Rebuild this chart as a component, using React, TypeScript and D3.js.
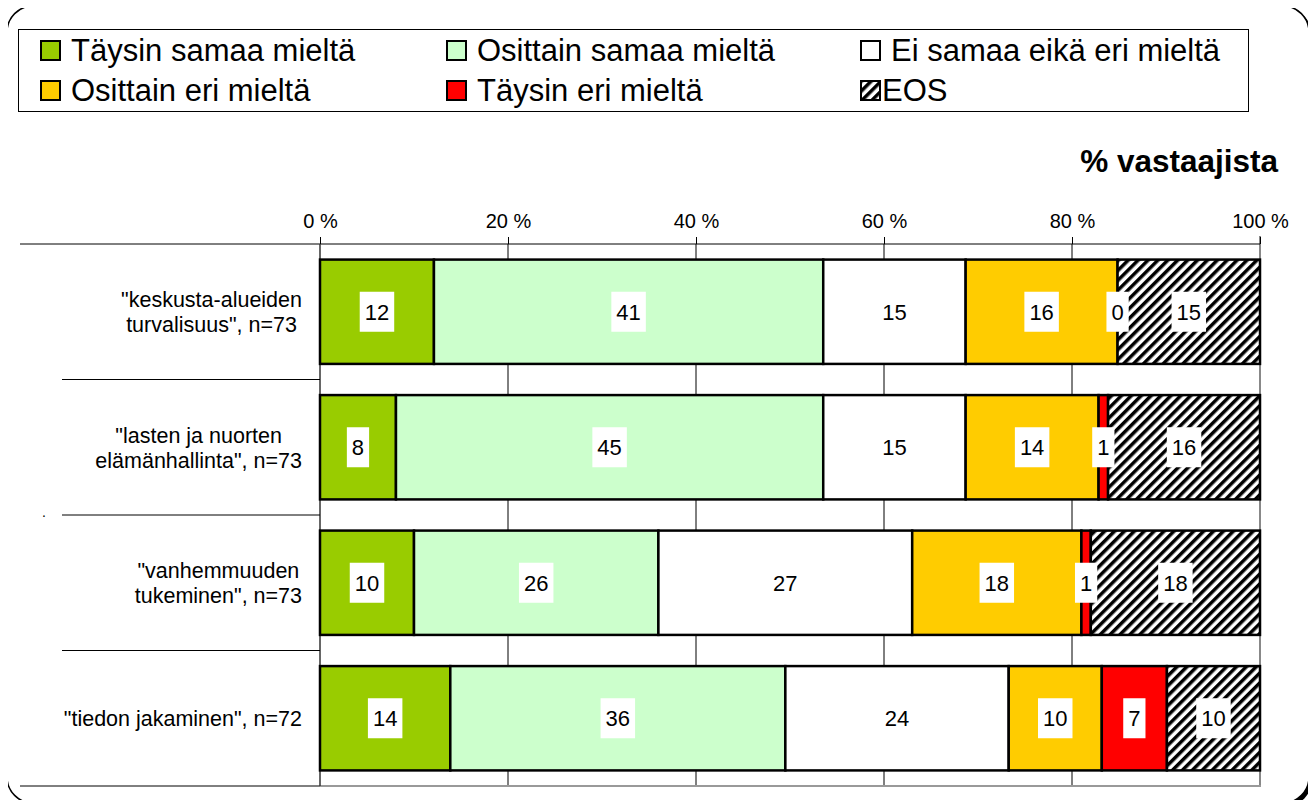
import React, { useEffect, useRef } from 'react';
import * as d3 from 'd3';

// categories (label lines as Excel wrapped them)
const categoryLines = [
  ['"keskusta-alueiden', 'turvalisuus", n=73'],
  ['"lasten ja nuorten', 'elämänhallinta", n=73'],
  ['"vanhemmuuden', 'tukeminen", n=73'],
  ['"tiedon jakaminen", n=72'],
];

const seriesNames = [
  'Täysin samaa mieltä',
  'Osittain samaa mieltä',
  'Ei samaa eikä eri mieltä',
  'Osittain eri mieltä',
  'Täysin eri mieltä',
  'EOS',
];

// percent of respondents, per category
const taysinSamaa = [12, 8, 10, 14];
const osittainSamaa = [41, 45, 26, 36];
const eiSamaaEiEri = [15, 15, 27, 24];
const osittainEri = [16, 14, 18, 10];
const taysinEri = [0, 1, 1, 7];
const eos = [15, 16, 18, 10];

const tickValues = [0, 0.2, 0.4, 0.6, 0.8, 1];

const colors = ['#99cc00', '#ccffcc', '#ffffff', '#ffcc00', '#ff0000', 'url(#hatch)'];

const W = 1316;
const H = 808;
const FONT = 'Liberation Sans, Arial, sans-serif';

const Chart = () => {
  const ref = useRef<SVGSVGElement>(null);

  useEffect(() => {
    const svg = d3.select(ref.current);
    svg.selectAll('*').remove();

    const cols = [taysinSamaa, osittainSamaa, eiSamaaEiEri, osittainEri, taysinEri, eos];
    const rows = categoryLines.map((_, i) => {
      const r: any = { idx: i };
      seriesNames.forEach((s, k) => (r[s] = cols[k][i]));
      return r;
    });
    const stacked = d3.stack().keys(seriesNames).offset(d3.stackOffsetExpand)(rows);

    const x = d3.scaleLinear().domain([0, 1]).range([320, 1260]);
    const y = d3
      .scaleBand<number>()
      .domain(d3.range(categoryLines.length))
      .range([244, 786])
      .paddingInner(0.23)
      .paddingOuter(0.115);

    const defs = svg.append('defs');
    const pat = defs
      .append('pattern')
      .attr('id', 'hatch')
      .attr('patternUnits', 'userSpaceOnUse')
      .attr('width', 7)
      .attr('height', 7)
      .attr('patternTransform', 'rotate(45)');
    pat.append('rect').attr('width', 7).attr('height', 7).attr('fill', '#fff');
    pat.append('line').attr('x1', 1.75).attr('x2', 1.75).attr('y1', 0).attr('y2', 7)
      .attr('stroke', '#000').attr('stroke-width', 3.5);

    // outer frame with shadow
    svg.append('rect').attr('x', 10).attr('y', 9).attr('width', 1302).attr('height', 797)
      .attr('rx', 26).attr('fill', '#000');
    svg.append('rect').attr('x', 7).attr('y', 6).attr('width', 1302).attr('height', 797)
      .attr('rx', 26).attr('fill', '#fff').attr('stroke', '#000').attr('stroke-width', 1.5);

    // legend
    svg.append('rect').attr('x', 18.5).attr('y', 29.5).attr('width', 1230).attr('height', 82)
      .attr('fill', '#fff').attr('stroke', '#000').attr('stroke-width', 1);
    const legX = [40, 446, 860];
    const legY = [40, 80];
    seriesNames.forEach((s, k) => {
      const g = svg.append('g').attr('transform', `translate(${legX[k % 3]},${legY[Math.floor(k / 3)]})`);
      g.append('rect').attr('x', 1).attr('y', 1).attr('width', 19).attr('height', 19)
        .attr('fill', colors[k]).attr('stroke', '#000').attr('stroke-width', 2);
      g.append('text').attr('x', k === 5 ? 22 : 31).attr('y', 21)
        .attr('font-family', FONT).attr('font-size', 31).attr('fill', '#000').text(s);
    });

    // title
    svg.append('text').attr('x', 1278).attr('y', 172).attr('text-anchor', 'end')
      .attr('font-family', FONT).attr('font-size', 31.5).attr('font-weight', 'bold').text('% vastaajista');

    // gridlines
    svg.append('g').selectAll('line').data(tickValues.slice(1, -1)).join('line')
      .attr('x1', (d) => x(d)).attr('x2', (d) => x(d)).attr('y1', 244).attr('y2', 786)
      .attr('stroke', '#000').attr('stroke-width', 1);

    // plot frame
    svg.append('line').attr('x1', 1260).attr('x2', 1260).attr('y1', 236).attr('y2', 786)
      .attr('stroke', '#888').attr('stroke-width', 2);
    svg.append('line').attr('x1', 320).attr('x2', 1261).attr('y1', 786).attr('y2', 786)
      .attr('stroke', '#999').attr('stroke-width', 2);
    svg.append('line').attr('x1', 20).attr('x2', 320).attr('y1', 786).attr('y2', 786)
      .attr('stroke', '#000').attr('stroke-width', 1);

    // top axis
    const axis = svg.append('g').attr('transform', 'translate(0,244)')
      .call(d3.axisTop(x).tickValues(tickValues).tickSize(7).tickFormat((d: any) => `${Math.round(d * 100)} %`));
    axis.select('.domain').remove();
    axis.selectAll('.tick line').attr('stroke', '#000');
    axis.selectAll('.tick text').attr('font-family', FONT).attr('font-size', 20).attr('fill', '#000')
      .attr('dy', '-0.3em');
    svg.append('line').attr('x1', 20).attr('x2', 1260).attr('y1', 244).attr('y2', 244)
      .attr('stroke', '#000').attr('stroke-width', 1);
    svg.append('line').attr('x1', 320).attr('x2', 320).attr('y1', 244).attr('y2', 786)
      .attr('stroke', '#333').attr('stroke-width', 1.5);

    // category separators
    svg.append('g').selectAll('line').data(d3.range(1, categoryLines.length)).join('line')
      .attr('x1', 62).attr('x2', 320)
      .attr('y1', (i) => 244 + i * y.step()).attr('y2', (i) => 244 + i * y.step())
      .attr('stroke', '#000').attr('stroke-width', 1);
    svg.append('text').attr('x', 42).attr('y', 517).attr('font-family', FONT).attr('font-size', 14).text('.');

    // category labels
    categoryLines.forEach((lines, i) => {
      const cy = (y(i) as number) + y.bandwidth() / 2;
      const t = svg.append('text').attr('font-family', FONT).attr('font-size', 21.5).attr('fill', '#000')
        .attr('text-anchor', 'middle');
      const spans = lines.map((l, j) =>
        t.append('tspan').attr('y', cy + 8 + (j - (lines.length - 1) / 2) * 25).text(l)
      );
      const maxW = d3.max(spans, (s) => (s.node() as SVGTSpanElement).getComputedTextLength()) || 0;
      spans.forEach((s) => s.attr('x', 302 - maxW / 2));
    });

    // bars
    const layers = svg.append('g').selectAll('g').data(stacked).join('g')
      .attr('fill', (_, k) => colors[k]);
    layers.selectAll('rect').data((d) => d).join('rect')
      .attr('x', (d) => x(d[0]))
      .attr('width', (d) => x(d[1]) - x(d[0]))
      .attr('y', (d: any) => y(d.data.idx) as number)
      .attr('height', y.bandwidth())
      .attr('stroke', '#000').attr('stroke-width', 2.5);

    // value labels
    const lab = svg.append('g');
    stacked.forEach((layer) => {
      layer.forEach((d: any) => {
        const v = d.data[layer.key];
        const cx = x((d[0] + d[1]) / 2);
        const cy = (y(d.data.idx) as number) + y.bandwidth() / 2;
        const g = lab.append('g').attr('transform', `translate(${cx},${cy})`);
        const r = g.append('rect').attr('fill', '#fff');
        const t = g.append('text').attr('text-anchor', 'middle').attr('y', 8)
          .attr('font-family', FONT).attr('font-size', 22).attr('fill', '#000').text(String(v));
        const w = (t.node() as SVGTextElement).getComputedTextLength() + 10;
        r.attr('x', -w / 2).attr('y', -20).attr('width', w).attr('height', 40);
      });
    });
  }, []);

  return <svg ref={ref} width={W} height={H} style={{ display: 'block' }} />;
};

export default function App() {
  return (
    <div style={{ margin: -8 }}>
      <Chart />
    </div>
  );
}
